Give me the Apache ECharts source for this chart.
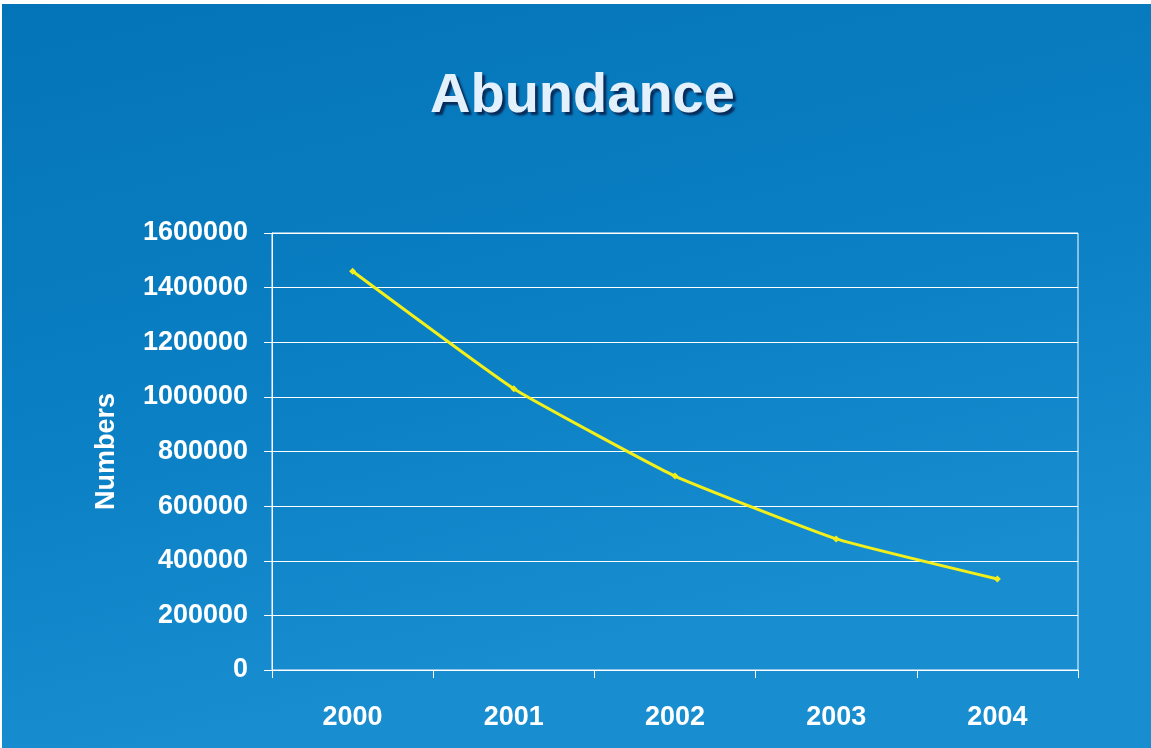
<!DOCTYPE html>
<html>
<head>
<meta charset="utf-8">
<script src="https://cdn.jsdelivr.net/npm/echarts@6/dist/echarts.min.js"></script>
<style>
html,body{margin:0;padding:0;background:#ffffff;width:1151px;height:748px;overflow:hidden;}
#chart{position:absolute;left:2px;top:4px;width:1149px;height:744px;}
</style>
</head>
<body>
<div id="chart"></div>
<script>
const titleText = 'Abundance';
const yAxisName = 'Numbers';
const years = ['2000', '2001', '2002', '2003', '2004'];
const abundance = [1460000, 1030000, 710000, 480000, 333000];
const yMin = 0, yMax = 1600000, yStep = 200000;

const chart = echarts.init(document.getElementById('chart'), null, {renderer: 'canvas'});
const font = '"Liberation Sans", Arial, sans-serif';
chart.setOption({
  backgroundColor: new echarts.graphic.LinearGradient(0, 0, 0.15, 1, [
    {offset: 0, color: '#0474b8'},
    {offset: 0.6, color: '#0b80c4'},
    {offset: 1, color: '#188dd0'}
  ]),
  animation: false,
  title: {
    text: titleText,
    left: 423,
    top: 60,
    textStyle: {
      fontFamily: font,
      fontWeight: 'bold',
      fontSize: 56,
      color: '#e2f1fb',
      textShadowColor: 'rgba(8,35,80,0.9)',
      textShadowOffsetX: 3,
      textShadowOffsetY: 3,
      textShadowBlur: 2
    }
  },
  grid: {
    left: 270, right: 73, top: 229, bottom: 78,
    show: true, borderColor: '#ffffff', borderWidth: 1,
    backgroundColor: 'transparent'
  },
  xAxis: {
    type: 'category',
    data: years,
    boundaryGap: true,
    axisLine: {show: true, lineStyle: {color: '#ffffff', width: 1}},
    axisTick: {show: true, length: 8, inside: false, lineStyle: {color: '#ffffff'}},
    axisLabel: {
      color: '#ffffff', fontFamily: font, fontWeight: 'bold', fontSize: 27, margin: 34
    },
    splitLine: {show: false}
  },
  yAxis: {
    type: 'value',
    min: yMin, max: yMax, interval: yStep,
    name: yAxisName,
    nameLocation: 'middle',
    nameRotate: 90,
    nameGap: 152,
    nameMoveOverlap: false,
    nameTextStyle: {color: '#ffffff', fontFamily: font, fontWeight: 'bold', fontSize: 27},
    axisLine: {show: true, lineStyle: {color: '#ffffff', width: 1}},
    axisTick: {show: true, length: 8, inside: false, lineStyle: {color: '#ffffff'}},
    axisLabel: {
      color: '#ffffff', fontFamily: font, fontWeight: 'bold', fontSize: 27, margin: 24,
      formatter: function (v) { return String(v); }
    },
    splitLine: {show: true, lineStyle: {color: '#ffffff', width: 1}}
  },
  series: [{
    type: 'line',
    data: abundance,
    smooth: 0.12,
    lineStyle: {color: '#f3ef1a', width: 3},
    symbol: 'diamond',
    symbolSize: 7,
    itemStyle: {color: '#f3ef1a'}
  }]
});
</script>
</body>
</html>
